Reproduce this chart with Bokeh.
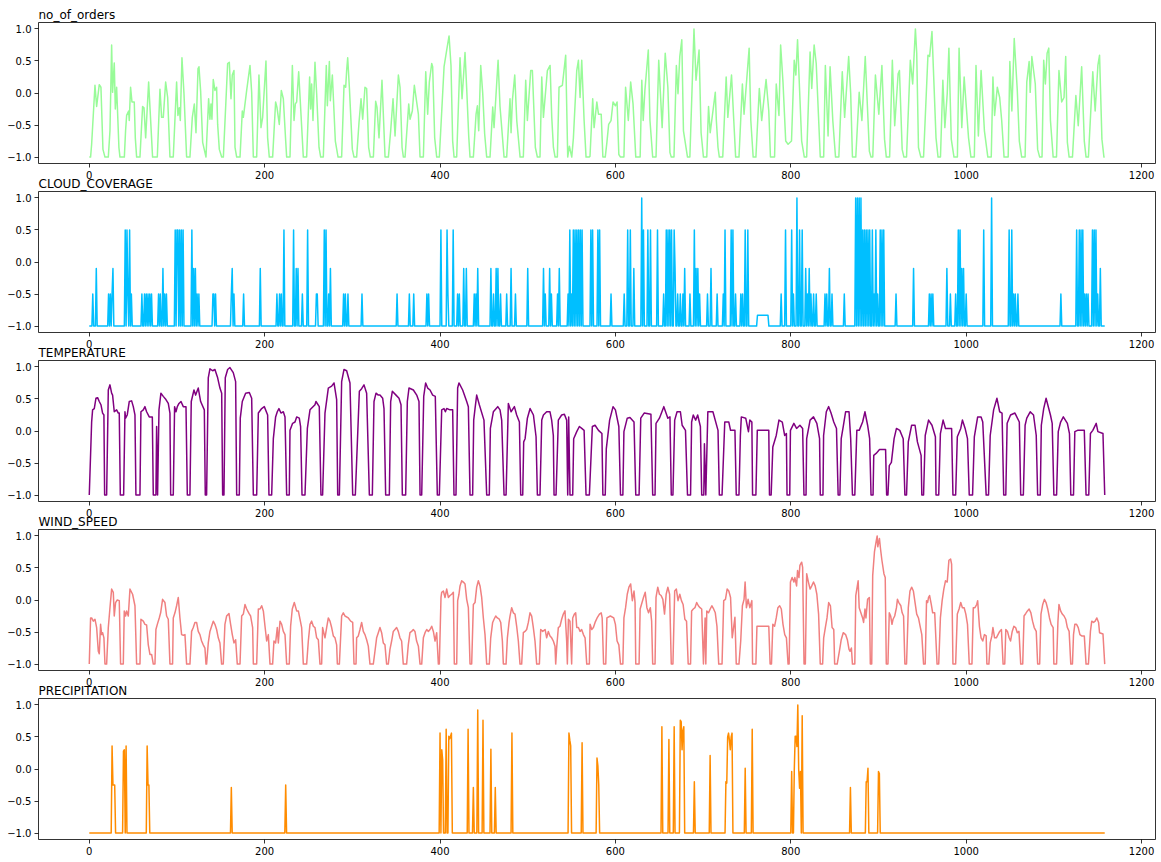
from bokeh.plotting import figure
from bokeh.layouts import column
from bokeh.models import Range1d, FixedTicker
from bokeh.embed import file_html
from bokeh.resources import INLINE

# ---------------- data ----------------
HOURS = list(range(0, 1159))
BASELINE = -1.0

titles = ["no_of_orders", "CLOUD_COVERAGE", "TEMPERATURE", "WIND_SPEED", "PRECIPITATION"]
colors = ["#98fb98", "#00bfff", "#800080", "#f08080", "#ff8c00"]
x_ticks = [0, 200, 400, 600, 800, 1000, 1200]
y_ticks = [-1.0, -0.5, 0.0, 0.5, 1.0]
y_tick_labels = ["\u22121.0", "\u22120.5", "0.0", "0.5", "1.0"]

orders_pts = [
(0,-1),(1.5,-1),(2.7,-0.80),(6.5,0.12),(8.4,-0.21),(11.4,0.13),(13.3,0.09),(15.6,-0.88),(17.9,-1),(21.7,-1),(23.6,-0.59),(25.5,0.75),(26.6,0.01),(28.5,0.47),(29.7,-0.25),(31.2,0.09),(33.8,-0.85),(35,-1),(40,-1),
(41.4,-0.59),(42.6,-0.35),(44.9,-0.28),(45.6,-0.43),(47.1,0.09),(48.7,-0.14),(51.3,-0.14),(52.5,-0.70),(54,-1),(57.8,-1),
(60.8,-0.21),(62.4,-0.23),(64.3,-0.70),(67.7,0.17),(72.2,-1),(77.6,-1),
(80.6,0.06),(82.5,-0.38),(84.4,-0.38),(87.1,0.17),(89.4,-0.07),(92,-1),(95.8,-1),
(99.6,0.17),(101.1,-0.35),(102.7,-0.23),(103.8,-0.43),(105.7,0.55),(108,-0.01),(111,-1),(114.8,-1),
(117.5,-0.38),(119.8,-0.17),(121.7,-0.62),(124,0.38),(125.1,0.41),(127,0.03),(129.3,-0.77),(133.1,-1),
(136.1,-0.09),(137.6,-0.41),(138.8,-0.17),(139.9,-0.41),(141.4,0.21),(143.3,0.04),(145.2,0.09),(146.4,-0.49),(148.3,-0.88),(151,-1),(152.9,-1),
(157.8,0.46),(159.7,0.48),(161.6,-0.09),(163.1,0.28),(165,0.35),(166.2,-0.85),(168.1,-1),(171.9,-1),
(174.5,-0.28),(175.7,-0.38),(179.5,0.04),(183.3,0.43),(185.2,0.01),(187.1,-1),(190.9,-1),
(193.5,0.28),(195.8,-0.54),(197.7,-0.38),(201.5,0.50),(203.4,-0.70),(205.3,-1),(209.1,-1),
(212.5,-0.14),(214,-0.22),(216.7,-0.49),(219,0.04),(221.3,-0.09),(224,-0.75),(225.1,-1),(228.9,-1),
(231.6,0.43),(233.5,-0.43),(235,-0.17),(236.5,-0.14),(238.8,0.33),(244.1,-1),(247.9,-1),
(251.3,0.25),(252.5,-0.25),(253.6,0.14),(255.1,-0.43),(257.4,0.48),(259.3,-0.01),(262,-0.85),(263.9,-1),(266.9,-1),
(270.3,0.43),(271.5,-0.20),(273.8,0.49),(274.9,-0.12),(277.2,0.28),(280.6,-0.75),(283.7,-1),(287.8,-1),
(290.5,0.12),(292.4,0.09),(293.5,0.35),(294.7,0.55),(296.6,0.09),(300,-0.88),(301.9,-1),(304.9,-1),
(307.6,-0.46),(309.9,-0.09),(311.8,-0.41),(314.4,0.09),(316.3,0.07),(318.6,-0.85),(320.5,-1),(324,-1),
(326.6,-0.13),(328.1,-0.22),(330.4,-0.70),(333.8,0.20),(337.3,-1),(341.1,-1),
(343.7,-0.59),(346.4,-0.09),(348.7,-0.67),(352.5,0.28),(354.4,0.09),(356.7,-0.85),(358.2,-1),(360.1,-1),
(364.3,-0.17),(365.8,-0.41),(368.4,-0.28),(370.7,0.12),(375.3,-0.33),(377.2,-1),(381,-1),
(383.7,0.33),(385.9,-0.33),(387.8,0.17),(390.5,0.46),(391.6,0.41),(393.9,-0.70),(396.2,-1),(399.2,-1),
(404.6,0.41),(407.6,0.67),(410.3,0.89),(412.5,0.43),(414.4,-0.75),(416,-1),(419,-1),
(422.8,0.55),(425.1,-0.09),(428.5,0.63),(430.4,0.07),(432.7,-0.67),(434.2,-1),(438,-1),
(441.1,-0.33),(442.6,-0.20),(444.1,-0.59),(446.4,0.43),(448.7,-0.01),(450.9,-0.64),(453.2,-1),(457,-1),
(460.1,-0.22),(461.6,-0.54),(466.2,0.51),(468.4,-0.21),(473,-1),(476,-1),
(479.8,-0.09),(481,-0.62),(482.5,-0.12),(485.2,0.28),(487.5,-0.43),(491.3,-1),(495,-1),
(497.7,0.20),(499.6,-0.43),(503.4,0.35),(505.3,0.35),(508.7,-0.85),(511,-1),(514,-1),
(516,0.25),(517.9,-0.38),(522.4,0.35),(525.5,0.43),(527.4,-0.38),(529.3,-0.85),(531.2,-1),(533.8,-1),
(535.7,0.09),(539.5,0.12),(543.3,0.59),(545.6,-1),(547.5,-0.83),(550.2,-1),
(552.1,-0.70),(555.9,0.35),(557.8,0.51),(559.7,-0.07),(561.6,0.51),(564.3,-0.43),(566.5,-1),(570,-1),
(571,-0.99),(574.1,-0.09),(575.7,-0.54),(578.8,-0.14),(580.7,-0.33),(583.8,-0.33),(585.7,-1),(588.4,-1),
(590.3,-0.77),(592.3,-0.49),(595,-0.43),(597.3,-0.14),(600,-0.20),(601.9,-0.14),(603.9,-0.96),(605.8,-1),(609.7,-1),
(611.6,0.09),(614.7,-0.43),(617.4,0.17),(620.1,-0.17),(623.2,-1),(628.2,-1),
(630.1,0.20),(631.7,-0.43),(633.6,0.04),(637.5,0.67),(639.4,-0.43),(642.5,-1),(646.3,-1),
(649.4,0.51),(653.3,-0.54),(656.8,0.62),(659.8,0.09),(662.2,-0.93),(663.7,-1),(666.8,-1),
(669.5,0.43),(671.4,-0.01),(673.4,0.57),(675.7,0.83),(677.6,-0.59),(682.2,-1),(684.9,-1),
(689.6,1.0),(691.9,0.20),(695.4,0.67),(697.7,-0.62),(700.4,-1),(704.2,-1),
(706.2,-0.21),(708.1,-0.62),(713.9,0.01),(715.1,-0.43),(717,-0.85),(718.5,-1),(722.4,-1),
(726.3,0.25),(728.2,-0.38),(732.4,0.28),(735.1,-0.46),(737.1,-1),(740.9,-1),
(744.8,0.14),(746.7,-0.33),(752.5,0.70),(754.4,-0.43),(757.1,-1),(760.2,-1),
(764.1,0.07),(766.8,-0.43),(771.8,0.21),(774.9,-0.28),(776.8,-1),(781.5,-1),
(783.4,0.14),(786.5,-0.35),(788.4,0.75),(791.1,0.17),(794.2,-0.75),(796.9,-0.80),(800.8,-0.75),(803.9,0.51),(805.8,0.28),(807.7,0.83),(812.4,-0.75),(815.4,-1),(818.1,-1),
(822,0.64),(823.9,0.07),(826.6,0.75),(829,0.46),(833.6,-1),(837.5,-1),
(839.4,0.43),(842.5,-0.67),(844.8,0.41),(847.9,-0.43),(851,-1),(854.8,-1),
(858.7,0.33),(861.4,-0.38),(866,0.57),(868.3,-0.01),(870.3,-1),(874.1,-1),
(878,0.01),(881.1,-0.43),(884.9,0.57),(889.6,-0.91),(891.5,-1),(893.5,-1),
(896.5,0.28),(900.4,-0.33),(903.9,0.43),(906.9,-0.72),(908.9,-1),(912.7,-1),
(915.8,0.51),(918.5,-0.51),(922.4,0.30),(923.9,0.35),(927,-0.88),(929,-1),(932,-1),
(936.3,0.51),(939,0.14),(942.1,1.0),(943.6,0.62),(945.6,-0.85),(948.3,-1),(951.4,-1),
(956.4,0.59),(958.3,0.57),(961,0.96),(965.6,-0.70),(967.9,-1),(970.7,-1),
(973.4,0.20),(975.7,-0.54),(978.4,-0.01),(980.3,0.70),(983,-0.72),(986.1,-1),(990,-1),
(991.9,0.70),(995,-0.54),(997.7,0.25),(1002.7,-0.70),(1005.4,-1),(1009.3,-1),
(1011.2,0.43),(1013.9,-0.67),(1017,0.35),(1020.8,-0.59),(1024.7,-1),(1028.6,-1),
(1030.5,0.25),(1032.4,-0.35),(1035.5,0.09),(1038.2,-0.07),(1040.5,-0.43),(1043.2,-1),(1047.9,-1),
(1049.8,0.49),(1052.1,-0.28),(1054.8,0.85),(1058.3,0.04),(1060.6,-0.75),(1063.3,-1),(1067.2,-1),
(1069.1,0.17),(1071.8,0.49),(1073,0.01),(1074.9,0.57),(1078.8,0.14),(1081.5,-0.88),(1083.8,-1),(1086.5,-1),
(1088.4,0.51),(1090.3,0.14),(1092.3,0.62),(1094.2,0.70),(1096.1,-0.43),(1099.2,-1),(1103,-1),
(1105.8,0.35),(1108.9,-0.14),(1111.6,-0.07),(1113.5,0.57),(1115.4,-0.77),(1117.4,-1),(1121.2,-1),
(1125.1,-0.04),(1127.8,-0.51),(1131.7,0.41),(1134.7,-0.75),(1136.7,-1),(1139.4,-1),
(1144.4,0.33),(1147.1,-0.28),(1150.2,0.43),(1152.1,0.59),(1154.8,-0.72),(1157.1,-1),(1158,-1),
]

temperature_pts = [
(0,-1),(2.7,0.14),(3.8,0.33),(5.7,0.35),(7.6,0.51),(9.5,0.52),(11.4,0.46),(13.3,0.41),(15.2,0.28),(16.7,0.25),(17.5,-1),(19.8,-1),
(21.7,0.64),(23.6,0.72),(25.5,0.59),(26.6,0.56),(28.5,0.30),(31.2,0.33),(33.1,0.28),(34.2,0.28),(35.4,-1),(39.2,-1),
(40.7,0.30),(41.4,0.20),(43.3,0.25),(45.6,0.46),(48.3,0.47),(50.2,0.38),(52.1,0.25),(53.2,-1),(57.8,-1),
(58.9,0.30),(61.6,0.33),(63.5,0.38),(65.4,0.30),(68.4,0.22),(71.9,0.22),(73,-1),(76,-1),(76.8,0.07),(77.9,-1),
(79.5,0.33),(81.7,0.59),(84.4,0.54),(87.4,0.49),(90.1,0.43),(92,0.28),(92.8,-1),(95.8,-1),
(97.3,0.38),(98.9,0.30),(100.4,0.38),(102.3,0.43),(104.6,0.46),(107.2,0.38),(110.3,0.38),(111.8,-1),(114.8,-1),
(116.3,0.46),(119.4,0.64),(121.3,0.56),(124.3,0.67),(127,0.46),(131.2,0.33),(132.3,-1),(133.8,-1),
(135.7,0.83),(137.6,0.97),(140.7,0.94),(143.3,0.96),(146.4,0.83),(149,0.67),(151,0.59),(152.1,-1),(153.6,-1),
(155.1,0.83),(157.8,0.96),(160.4,0.99),(164.2,0.91),(166.9,0.77),(168.1,-1),(171.1,-1),
(172.2,0.20),(174.5,0.46),(178.3,0.59),(182.5,0.60),(185.2,0.51),(187.1,-1),(190.9,-1),
(192.8,0.28),(196.6,0.35),(199.6,0.38),(203.4,0.25),(204.9,-1),(208,-1),
(209.9,-0.12),(212.5,0.22),(214.4,0.30),(216.3,0.35),(218.6,0.28),(221.3,0.30),(223.2,0.22),(225.1,-1),(228.1,-1),
(228.9,0.01),(231.9,0.12),(234.6,0.14),(236.5,0.22),(239.5,0.20),(241,0.07),(242.6,-1),(246,-1),
(248.7,0.04),(251.7,0.33),(257.4,0.41),(258.5,0.46),(262.3,0.38),(264.2,-1),(266.1,-1),
(268.8,0.28),(272.6,0.67),(276.4,0.70),(279.1,0.75),(282.1,0.49),(283.3,-1),(285.2,-1),
(287.8,0.77),(290.5,0.96),(293.5,0.94),(297.3,0.75),(300.4,-1),(303.4,-1),
(308,0.62),(310.6,0.66),(313.3,0.72),(316.3,0.59),(319.4,-1),(322.8,-1),
(324.7,0.46),(327,0.59),(329.6,0.56),(331.5,0.56),(334.6,0.51),(336.1,0.35),(338,-1),(342.2,-1),
(343.7,0.46),(345.6,0.62),(349.8,0.56),(353.2,0.51),(355.5,0.41),(357,-1),(360.8,-1),
(362.7,0.46),(364.6,0.67),(369.6,0.64),(373.4,0.56),(376,0.46),(377.2,-1),(379.1,-1),
(381.4,0.54),(383.6,0.75),(385.9,0.67),(388.6,0.64),(391.6,0.56),(394.6,0.54),(396.9,-1),(399.2,-1),
(401.9,0.33),(404.5,0.35),(406.1,0.30),(407.6,0.35),(411.4,0.33),(414.4,0.33),(415.9,-1),(418.2,-1),
(420.1,0.67),(421.6,0.75),(425.8,0.64),(430.4,0.46),(432.3,0.38),(434.2,-1),(437.2,-1),
(438.4,0.17),(439.9,0.35),(441.8,0.56),(444.8,0.41),(450.1,0.17),(453.2,-1),(456.2,-1),
(457.4,0.04),(460.8,0.30),(465.8,0.38),(468.4,0.33),(470.3,0.17),(473,-1),(475.3,-1),
(477.9,0.43),(481,0.30),(484.8,0.38),(487.4,0.25),(490.5,0.14),(492,-1),(494.3,-1),
(495.4,-0.17),(497,-0.12),(499.6,0.20),(502.7,0.35),(506.5,0.25),(509.5,-0.09),(511,-1),(514,-1),
(516,0.17),(517.9,0.25),(521.6,0.30),(525.4,0.30),(527.3,0.17),(529.2,-0.07),(530,-1),(532.3,-1),
(534.9,0.17),(538.7,0.25),(541.8,0.26),(544.4,0.17),(545.6,-1),(546.7,0.22),(548.2,-1),(551.3,-1),
(552.4,-0.12),(555.9,-0.01),(558.9,0.07),(561.6,0.04),(564.3,0.01),(566.5,-1),(570.3,-1),
(573.7,0.07),(576.8,0.09),(580.7,0.01),(584.6,-0.04),(585.7,-1),(588.4,-1),
(589.6,-0.28),(593.4,0.17),(597.3,0.38),(600,0.33),(603.9,0.07),(605.8,-1),(608.5,-1),
(609.7,-0.01),(613.5,0.20),(616.6,0.21),(621.2,0.14),(623.2,-1),(627,-1),
(628.9,0.20),(632.8,0.28),(640.5,0.26),(642.5,-1),(645.2,-1),
(646.3,0.12),(650.2,0.20),(655.2,0.38),(659.8,0.20),(662.2,0.22),(663.7,-1),(665.6,-1),
(667.6,0.17),(670.3,0.30),(674.1,0.30),(676.1,0.09),(679.9,0.01),(682.2,-1),(685.7,-1),
(686.9,0.14),(688.8,0.25),(691.5,0.17),(693.8,0.25),(696.9,0.07),(698.4,-1),(700.8,-1),(701.5,-0.20),(703.1,-1),
(705.4,0.30),(711.2,0.30),(717,0.01),(718.5,-1),(721.6,-1),
(724.7,0.14),(729.3,0.14),(731.3,0.01),(736.3,0.01),(737.8,-1),(740.9,-1),
(742.5,-0.07),(743.6,0.22),(748.6,0.20),(751.7,-0.01),(753.3,0.17),(755.6,0.14),(756.4,-1),(760.2,-1),
(761.8,0.01),(774.9,0.01),(775.7,-1),(777.6,-1),
(779.5,-0.25),(783.4,-0.07),(786.5,0.17),(790.3,0.14),(793,-0.07),(795,-0.04),(795.7,-1),(798.8,-1),
(799.6,0.01),(803.5,0.12),(806.6,0.04),(810.4,0.09),(813.5,0.04),(815,-1),(817.4,-1),
(818.1,-0.12),(822,0.17),(825.9,0.22),(829.7,0.12),(832.8,-0.12),(833.6,-1),(836.7,-1),
(837.4,-0.07),(840.5,0.30),(843.2,0.38),(845.9,0.28),(849,0.14),(852.1,0.04),(854,-1),(856,-1),
(857.5,-0.12),(859.8,0.07),(862.5,0.30),(866.4,0.30),(868.3,-0.12),(870.3,-1),(873,-1),
(875.3,0.01),(878,0.01),(881.9,0.14),(884.6,0.30),(887.6,0.09),(889.9,-0.12),(891.5,-1),(893.8,-1),
(894.6,-0.38),(897.3,-0.35),(901.2,-0.29),(908.1,-0.29),(909.3,-1),(910.8,-1),
(912.3,-0.54),(914.7,-0.49),(917.8,-0.12),(920.5,0.04),(924.3,0.01),(928.2,-0.12),(930.1,-1),(932,-1),
(934,-0.17),(937.8,0.09),(941.7,0.09),(944.4,-0.17),(948.6,-0.38),(949.4,-1),(951.4,-1),
(953.3,-0.07),(957.1,0.17),(961,0.09),(964.9,-0.09),(965.6,-1),(968.7,-1),
(970.6,-0.04),(973.7,0.17),(976.4,0.04),(983.4,0.04),(984.9,-1),(988,-1),
(989.9,-0.09),(993.8,0.04),(995.7,0.17),(998.8,0.04),(1001.5,-0.12),(1003.5,-1),(1007.3,-1),
(1009.3,-0.09),(1013.1,0.22),(1017,0.22),(1018.9,0.14),(1022.8,-1),(1025.5,-1),
(1027.4,-0.07),(1031.3,0.33),(1035.1,0.51),(1038.2,0.30),(1040.9,0.28),(1042.8,-1),(1045.2,-1),
(1046.7,0.12),(1050.6,0.25),(1055.6,0.28),(1060.6,0.14),(1062.2,-1),(1065.2,-1),
(1067.2,0.09),(1069.1,0.20),(1073,0.30),(1076.8,0.25),(1079.9,-0.07),(1081.5,-1),(1084.5,-1),
(1085.7,0.09),(1088.4,0.35),(1091.1,0.51),(1096.1,0.25),(1098.1,0.12),(1100,-1),(1103.1,-1),
(1105,-0.01),(1107.7,0.14),(1110.8,0.22),(1115.4,0.12),(1117.8,-0.04),(1119.3,-1),(1122.4,-1),
(1123.9,-0.01),(1127,0.01),(1134.7,0.01),(1136.7,-1),(1139.8,-1),
(1141.7,-0.04),(1144.4,0.01),(1148.3,0.12),(1150.2,-0.01),(1156,-0.04),(1158,-1),
]

wind_pts = [
(0,-1),(1.5,-0.28),(2.7,-0.28),(4.6,-0.33),(6.5,-0.30),(8.4,-0.43),(10.3,-0.80),(11.4,-0.84),(12.9,-0.38),(14.1,-0.54),(15.2,-0.51),(16.7,-0.59),(17.9,-1),(19.8,-1),
(21.7,-0.43),(23.6,-0.12),(25.5,0.17),(27.4,0.12),(28.5,-0.25),(30,-0.04),(31.9,0.0),(34.2,-0.01),(35.7,-1),(38.8,-1),
(39.9,-0.17),(41.4,-0.25),(42.6,-0.17),(44.5,-0.25),(46.4,0.17),(49.4,0.09),(52.1,-0.09),(54,-1),(57.8,-1),
(58.9,-0.30),(61.6,-0.33),(63.5,-0.38),(65.4,-0.39),(67.3,-0.70),(69.2,-0.85),(71.1,-0.85),(73,-1),(74.9,-1),
(76,-0.46),(77.6,-0.38),(79.8,-0.28),(81.4,-0.20),(83.6,0.01),(86.3,-0.04),(88.2,-0.25),(90.1,-0.30),(92,-1),(95,-1),
(95.8,-0.28),(97.7,-0.20),(99.6,-0.09),(101.5,0.04),(103.4,-0.28),(105.3,-0.54),(107.2,-0.55),(109.1,-0.54),(111,-1),(114.8,-1),
(116.7,-0.49),(118.6,-0.43),(120.5,-0.35),(122.4,-0.35),(124.3,-0.49),(126.2,-0.54),(128.1,-0.64),(130,-0.70),(131.9,-0.75),(133.1,-1),(133.8,-1),
(135.7,-0.67),(137.6,-0.49),(139.5,-0.41),(141.4,-0.33),(143.3,-0.38),(145.2,-0.46),(147.1,-0.59),(149,-0.67),(150.9,-1),(152.8,-1),
(154.7,-0.38),(156.6,-0.25),(159.3,-0.21),(161.2,-0.38),(163.1,-0.54),(165,-0.67),(166.9,-0.62),(168.8,-1),(171.9,-1),
(173.8,-0.25),(175.7,-0.22),(177.6,-0.07),(179.5,-0.14),(182.1,-0.21),(184,-0.25),(186.3,-0.43),(187.1,-1),(190.9,-1),
(192.8,-0.14),(194.7,-0.14),(196.6,-0.09),(198.5,-0.17),(200.4,-0.41),(202.3,-0.64),(204.2,-0.54),(206.1,-1),(209.1,-1),
(210.6,-0.64),(212.5,-0.67),(214.4,-0.43),(215.6,-0.67),(217.5,-0.33),(219.4,-0.38),(221.3,-0.49),(223.2,-0.54),(225.1,-1),(228.1,-1),
(229.6,-0.41),(231.5,-0.14),(233.8,-0.04),(236.5,-0.17),(238.4,-0.17),(240.3,-0.30),(242.2,-0.43),(244.1,-1),(247.9,-1),
(249.8,-0.64),(251.7,-0.38),(253.6,-0.33),(255.5,-0.41),(257.4,-0.43),(259.3,-0.59),(261.2,-0.62),(263.1,-1),(265,-1),
(266.1,-0.43),(268.8,-0.59),(270.7,-0.43),(272.6,-0.28),(274.5,-0.33),(276.4,-0.43),(278.3,-0.56),(280.2,-0.59),(282.1,-0.70),(282.9,-1),(285.2,-1),
(287.8,-0.25),(289.7,-0.20),(291.6,-0.25),(295.4,-0.28),(298.1,-0.33),(300.4,-0.35),(301.9,-1),(304.2,-1),
(304.9,-0.59),(306.8,-0.56),(308.7,-0.46),(310.6,-0.35),(312.5,-0.49),(314.4,-0.54),(316.3,-0.62),(318.2,-0.72),(320.1,-1),(323.9,-1),
(325.8,-0.80),(327.7,-0.59),(329.6,-0.51),(331.5,-0.43),(333.4,-0.51),(335.3,-0.67),(337.2,-0.70),(339.1,-1),(341,-1),
(342.9,-0.77),(344.8,-0.64),(346.7,-0.49),(348.6,-0.46),(350.5,-0.43),(352.4,-0.49),(354.3,-0.59),(356.2,-0.64),(358.1,-1),(361.9,-1),
(363.8,-0.70),(365.7,-0.51),(367.6,-0.49),(369.5,-0.46),(371.4,-0.49),(373.3,-0.64),(375.3,-0.72),(377.2,-1),(379.1,-1),
(381,-0.59),(382.9,-0.51),(384.8,-0.46),(386.7,-0.49),(388.6,-0.46),(390.5,-0.41),(392.4,-0.49),(394.3,-0.64),(396.2,-0.51),(398.1,-1),(399.2,-1),
(401.1,0.04),(401.9,0.12),(403.8,0.14),(405.7,0.04),(407.6,0.17),(409.5,0.04),(411.4,0.07),(413.3,0.09),(415.2,0.12),(416.3,-1),(419,-1),
(420.1,-0.01),(421.6,0.09),(422.8,0.22),(424.7,0.30),(426.6,0.28),(428.5,0.25),(430.4,0.01),(432.3,-0.12),(434.2,-1),(436.1,-1),
(438,-0.07),(439.9,-0.04),(441.8,0.20),(443.7,0.30),(445.6,0.22),(447.5,0.04),(449.4,-0.28),(451.3,-0.54),(453.2,-1),(456.2,-1),
(457.8,-0.59),(460,-0.35),(461.6,-0.30),(463.5,-0.25),(465.4,-0.28),(467.6,-0.30),(469.2,-0.35),(471.1,-0.64),(472.2,-1),(475.3,-1),
(476.8,-0.59),(478.7,-0.35),(479.8,-0.25),(481.7,-0.12),(483.6,-0.20),(485.5,-0.22),(487.4,-0.41),(489.3,-0.64),(491.2,-1),(493.1,-1),
(495,-0.51),(496.9,-0.49),(498.8,-0.46),(500.7,-0.35),(502.6,-0.20),(504.5,-0.25),(506.4,-0.43),(508.3,-0.64),(510.2,-1),(513.3,-1),
(514.8,-0.46),(517.1,-0.49),(519.8,-0.46),(521.6,-0.59),(523.5,-0.49),(525.4,-0.56),(527.3,-0.59),(529.2,-0.64),(531.1,-0.72),(531.9,-1),
(533,-0.75),(534.9,-0.43),(536.8,-0.41),(538.7,-0.30),(540.6,-0.22),(542.5,-0.17),(544.4,-0.64),(545.2,-1),(546.4,-0.30),(548.2,-0.33),(550.1,-1),
(551.3,-0.28),(553.2,-0.22),(554.7,-0.20),(555.9,-0.43),(557.8,-0.43),(559.7,-0.49),(561.5,-0.46),(563.5,-0.54),(565.4,-0.59),(567.3,-1),(570.3,-1),
(571.1,-0.38),(573,-0.46),(574.9,-0.43),(576.8,-0.35),(579.5,-0.27),(581.8,-0.22),(583.8,-0.20),(584.9,-0.28),(586.5,-1),(589,-1),
(590.3,-0.28),(594.2,-0.25),(598.1,-0.28),(600,-0.38),(601.9,-0.64),(603.9,-0.70),(605.8,-1),(608.5,-1),
(609.7,-0.28),(611.6,-0.12),(613.5,0.09),(615.4,0.20),(617.4,0.25),(619.3,-0.01),(621.2,0.14),(622.4,-0.04),(623.2,-1),(627,-1),
(628.2,-0.14),(629.7,-0.07),(632,0.04),(634,0.12),(635.9,-0.12),(637.8,-0.20),(639.8,-0.12),(641.3,-0.33),(642.5,-1),(645.2,-1),
(646.3,0.04),(648.3,0.20),(650.2,0.09),(652.1,0.07),(654.1,0.01),(656,-0.22),(657.9,0.09),(659.8,0.20),(661.8,0.09),(663.7,-1),(665.6,-1),
(667.6,0.14),(669.5,0.17),(671.4,-0.01),(673.4,0.09),(675.3,-0.01),(677.2,-0.07),(679.2,-0.30),(681.1,-0.33),(683,-1),(685.7,-1),
(686.9,-0.17),(688.8,-0.14),(690.7,-0.12),(692.7,-0.04),(694.6,-0.09),(696.5,-0.12),(698.4,-0.14),(700.4,-1),(702.3,-0.28),(703.1,-1),
(704.2,-0.17),(706.2,-0.20),(708.1,-0.14),(710,-0.09),(712,-0.14),(713.9,-0.20),(715.8,-0.41),(717.8,-1),(721.6,-1),
(723.5,-0.01),(725.5,0.01),(727.4,0.17),(729.3,0.14),(731.3,0.04),(733.2,-0.59),(736.3,-0.27),(737.8,-1),(740.9,-1),
(742.9,-0.64),(744.8,-0.09),(746.7,0.01),(747.9,0.28),(749.4,-0.12),(751.3,0.01),(753.3,-0.12),(755.6,-0.01),(756.4,-1),(760.2,-1),
(761.4,-0.41),(774.9,-0.41),(776.4,-1),(778,-1),
(779.5,-0.38),(781.5,-0.41),(783.4,-0.28),(785.3,-0.12),(787.3,-0.09),(789.2,-0.14),(791.1,-0.38),(793.1,-0.54),(795,-0.59),(796.9,-1),(798.1,-1),
(799.6,0.28),(801.5,0.35),(803.5,0.28),(804.6,0.35),(806.6,0.22),(807.7,0.46),(809.3,0.35),(810.4,0.54),(812.4,0.59),(813.5,0.51),(815.1,-1),(816.6,-1),
(818.1,0.41),(820.1,0.28),(822,0.17),(823.9,0.22),(825.9,0.28),(827.8,0.22),(829.7,0.09),(831.7,-0.22),(833.6,-1),(836.3,-1),
(837.5,-0.59),(839.4,-0.43),(841.3,-0.28),(843.2,-0.04),(845.2,-0.09),(847.1,-0.43),(849,-0.46),(850,-1),(852.9,-1),
(856,-0.75),(857.5,-0.62),(859.8,-0.51),(862.5,-0.54),(864.5,-0.62),(866.4,-0.77),(867.6,-0.80),(869.1,-0.75),(870.3,-1),(873,-1),
(874.1,0.07),(876.8,0.30),(878,-0.12),(879.9,-0.20),(881.9,-0.28),(883,-0.35),(884.6,-0.14),(885.7,-0.28),(887.6,0.01),(889.6,0.04),(890.7,-1),(892.3,-1),
(893.4,0.38),(895.4,0.75),(897.3,0.91),(898.5,1.0),(899.2,0.83),(901.1,0.96),(902.3,0.80),(903.9,0.62),(906.2,0.41),(907.7,0.35),(908.9,-1),(910.8,-1),
(912.3,-0.20),(913.9,-0.25),(915.4,-0.38),(916.6,-0.30),(918.5,-0.25),(920.5,-0.12),(921.6,0.01),(923.2,-0.04),(925.5,-0.09),(927,-0.20),(928.6,-0.25),(930.1,-1),(932,-1),
(934,-0.12),(935.9,0.14),(937.8,0.20),(939.8,0.14),(941.7,-0.04),(943.6,-0.22),(945.6,-0.28),(947.5,-0.41),(949.4,-0.54),(951.4,-1),(953.3,-1),
(954.8,-0.01),(956,-0.04),(957.1,0.04),(958.3,0.07),(960.2,-0.07),(961.8,-0.20),(964.1,-0.20),(966.8,-1),(968.7,-1),
(970.6,-0.28),(972.6,-0.01),(974.5,0.17),(976.4,0.30),(978.4,0.28),(980.3,0.62),(982.2,0.64),(983.4,0.56),(984.9,-1),(988,-1),
(989.9,-0.22),(991.9,-0.14),(993.8,-0.04),(995.7,-0.12),(997.7,-0.12),(999.6,-0.22),(1001.5,-0.38),(1003.5,-1),(1006.6,-1),
(1008.1,-0.12),(1010,-0.12),(1012,-0.07),(1013.1,-0.01),(1015.1,-0.41),(1017,-0.59),(1018.9,-0.64),(1020.8,-0.54),(1022.8,-0.56),(1023.6,-1),(1025.9,-1),
(1027.4,-0.67),(1029.3,-0.56),(1030.5,-0.43),(1032.4,-0.59),(1034.4,-0.59),(1036.3,-0.54),(1038.2,-0.49),(1040.2,-0.46),(1042.1,-1),(1044,-1),
(1045.2,-0.46),(1047.1,-0.49),(1049,-0.59),(1050.6,-0.64),(1052.5,-0.49),(1054.4,-0.41),(1056.4,-0.43),(1058.3,-0.51),(1060.2,-0.49),(1062.2,-1),(1064.5,-1),
(1066,-0.25),(1068,-0.21),(1069.9,-0.17),(1071.8,-0.14),(1073.8,-0.20),(1075.7,-0.33),(1077.6,-0.43),(1079.9,-0.49),(1081.5,-1),(1083.8,-1),
(1085.3,-0.22),(1087.3,-0.07),(1089.2,0.01),(1091.1,-0.04),(1093,-0.14),(1095,-0.28),(1096.9,-0.38),(1099.2,-0.43),(1100,-1),(1103.1,-1),
(1104.6,-0.35),(1105.8,-0.07),(1107.7,-0.17),(1109.6,-0.22),(1111.6,-0.25),(1113.5,-0.30),(1115.4,-0.43),(1117.4,-0.49),(1119.3,-1),(1121.2,-1),
(1122.4,-0.54),(1123.9,-0.38),(1125.9,-0.38),(1127.8,-0.43),(1129.7,-0.54),(1131.7,-0.56),(1134.7,-0.56),(1136.7,-1),(1139.4,-1),
(1141.7,-0.49),(1143.2,-0.33),(1145.2,-0.35),(1147.1,-0.33),(1149,-0.28),(1151,-0.35),(1152.1,-0.51),(1156,-0.53),(1158,-1),
]

# hours where cloud coverage leaves the -1 baseline: (hour, level)
cloud_obs = [
(4,-0.5),(8,-0.1),(22,-0.5),(24,-0.5),(26,-0.5),(27,-0.1),
(41,0.5),(43,0.5),(44,-0.5),(46,0.5),(48,-0.5),
(60,-0.5),(63,-0.5),(65,-0.5),(67,-0.5),(69,-0.5),(71,-0.5),
(79,-0.5),(81,-0.5),(84,-0.1),(86,-0.5),(88,-0.5),
(98,0.5),(100,0.5),(101,0.5),(103,0.5),(105,0.5),(107,0.5),
(117,0.5),(119,-0.1),(121,-0.1),(123,-0.5),(125,-0.5),
(141,-0.5),(142,-0.5),(144,-0.5),(162,-0.5),(163,-0.1),(165,-0.5),
(176,-0.5),(195,-0.1),(214,-0.5),(217,-0.5),(219,-0.5),(222,0.5),
(233,0.5),(236,-0.1),(238,-0.1),(243,-0.5),(249,0.5),
(259,-0.5),(260,-0.5),(268,0.5),(270,0.5),(273,-0.5),(275,-0.1),
(290,-0.5),(292,-0.5),(295,-0.5),(311,-0.5),(351,-0.5),(365,-0.5),(370,-0.5),(385,-0.5),(387,-0.5),
(401,0.5),(408,0.5),(409,-0.5),(415,0.5),(420,-0.5),(422,-0.5),(427,-0.1),(430,-0.1),
(439,-0.5),(441,-0.5),(443,-0.1),(458,-0.1),(461,-0.5),(464,-0.1),(466,-0.1),(469,-0.5),
(476,-0.5),(481,-0.1),(486,-0.5),(500,-0.1),
(518,-0.1),(520,-0.5),(525,-0.1),(527,-0.5),(534,-0.5),(536,-0.1),
(546,-0.5),(548,0.5),(550,-0.5),(552,0.5),(554,0.5),(556,0.5),(558,0.5),(560,0.5),(562,0.5),
(572,0.5),(574,0.5),(580,0.5),(582,0.5),
(595,-0.5),(610,-0.5),(614,0.5),(617,0.5),(621,-0.1),
(630,1.0),(632,0.5),(637,0.5),(640,0.5),(648,0.5),
(655,-0.5),(658,0.5),(660,0.5),(662,0.5),(664,0.5),(667,0.5),(668,-0.1),(671,-0.5),(674,-0.5),(677,-0.5),(679,-0.1),
(685,-0.5),(690,0.5),(692,-0.1),(694,-0.1),(696,-0.5),
(705,-0.5),(709,-0.1),(716,-0.5),
(723,-0.5),(725,0.5),(732,0.5),(734,0.5),(737,-0.5),
(743,-0.5),(745,-0.5),(748,0.5),(751,0.5),
(762,-0.83),(763,-0.83),(764,-0.83),(765,-0.83),(766,-0.83),(767,-0.83),(768,-0.83),
(769,-0.83),(770,-0.83),(771,-0.83),(772,-0.83),(773,-0.83),(774,-0.83),
(789,-0.5),(794,0.5),(801,0.5),(803,-0.5),(807,1.0),(810,0.5),(813,0.5),
(817,-0.1),(819,-0.5),(821,-0.1),(823,-0.5),(826,-0.5),(829,-0.5),
(839,-0.5),(841,-0.5),(844,-0.1),(847,-0.5),(861,-0.5),
(874,1.0),(876,1.0),(878,1.0),(880,1.0),(882,0.5),(884,0.5),(886,0.5),(888,0.5),(890,0.5),
(893,0.5),(895,-0.5),(897,0.5),(899,-0.5),(902,0.5),(904,0.5),(906,0.5),
(920,-0.5),(940,-0.1),(958,-0.5),(960,-0.5),(962,-0.5),
(978,-0.1),(982,-0.5),(988,-0.5),(991,0.5),(993,0.5),(995,-0.1),(997,-0.1),(1000,-0.5),
(1020,0.5),(1029,1.0),
(1049,0.5),(1052,0.5),(1054,-0.5),(1056,-0.5),(1059,-0.5),
(1108,-0.5),
(1126,0.5),(1129,0.5),(1131,0.5),(1133,0.5),(1135,-0.5),(1137,-0.5),(1139,-0.5),
(1144,0.5),(1146,0.5),(1148,0.5),(1150,-0.5),(1153,-0.1),
]

# hours where precipitation leaves the -1 baseline: (hour, level)
precip_obs = [
(26,0.36),(27,-0.25),(28,-0.25),(29,-0.25),
(39,0.28),(40,0.30),(42,0.36),
(66,0.36),(67,-0.25),(68,-0.25),
(162,-0.29),(224,-0.25),
(400,0.56),(402,0.30),(403,0.14),(407,0.62),(410,0.51),(411,0.47),(412,0.51),(413,0.56),
(432,0.62),(438,-0.29),(443,0.92),(449,0.76),(458,0.31),(463,-0.29),(482,0.56),
(547,0.56),(548,0.45),(549,0.36),(562,0.41),
(579,0.17),(580,0.05),(581,-0.25),
(653,0.66),(661,0.46),(667,0.66),
(674,0.76),(675,0.74),(676,0.30),(677,0.60),(678,0.66),
(690,-0.20),(708,0.21),
(726,-0.20),(727,-0.22),(728,0.50),(729,0.56),(730,0.45),(731,0.30),(732,0.50),(733,0.56),
(748,0.01),(756,0.62),
(801,-0.04),(804,0.0),(805,0.51),(806,0.51),(807,0.35),(808,1.0),(809,0.0),(810,-0.30),(811,-0.04),(813,0.83),
(868,-0.29),(886,-0.20),(887,-0.20),(888,0.01),(900,-0.04),(901,-0.07),
]

# ---------------- build series ----------------
def split(pts):
    return [p[0] for p in pts], [p[1] for p in pts]

def hourly(obs):
    lookup = dict(obs)
    return [lookup.get(h, BASELINE) for h in HOURS]

series = [
    split(orders_pts),
    (HOURS, hourly(cloud_obs)),
    split(temperature_pts),
    split(wind_pts),
    (HOURS, hourly(precip_obs)),
]

# ---------------- layout ----------------
FONT = "DejaVu Sans"
W = 1160
FRAME_H = 141
AXIS_B = 19
TITLE_T = 17

figs = []
for i, (xs, ys) in enumerate(series):
    top = 22 if i == 0 else TITLE_T
    p = figure(width=W, height=top + FRAME_H + AXIS_B,
               x_range=Range1d(-57.9, 1215.9), y_range=Range1d(-1.1, 1.1),
               output_backend="svg", toolbar_location=None,
               min_border_left=38, min_border_right=5,
               min_border_top=top, min_border_bottom=AXIS_B,
               margin=(0, 0, 0, 0) if i == 0 else (-8, 0, 0, 0))
    p.title.text = titles[i]
    p.title.text_font = FONT
    p.title.text_font_size = "12px"
    p.title.text_font_style = "normal"
    p.title.text_color = "black"
    p.title.align = "left"
    p.title.offset = 0
    p.title.standoff = 1
    p.grid.visible = False
    p.background_fill_color = "white"
    p.border_fill_color = None
    p.outline_line_color = "black"
    p.outline_line_width = 0.8
    for ax in (p.xaxis[0], p.yaxis[0]):
        ax.axis_line_color = None
        ax.major_tick_line_color = "black"
        ax.major_tick_line_width = 0.8
        ax.major_tick_in = 0
        ax.major_tick_out = 4
        ax.minor_tick_line_color = None
        ax.major_label_text_font = FONT
        ax.major_label_text_font_size = "10px"
        ax.major_label_text_color = "black"
    p.xaxis.ticker = FixedTicker(ticks=x_ticks)
    p.xaxis.major_label_standoff = 3
    p.yaxis.ticker = FixedTicker(ticks=y_ticks)
    p.yaxis.major_label_overrides = dict(zip(y_ticks, y_tick_labels))
    p.yaxis.major_label_standoff = 3
    p.line(xs, ys, line_color=colors[i], line_width=1.5, line_join="round")
    figs.append(p)

layout = column(*figs, spacing=0)
open("out.html", "w").write(file_html(layout, INLINE, title="chart"))
